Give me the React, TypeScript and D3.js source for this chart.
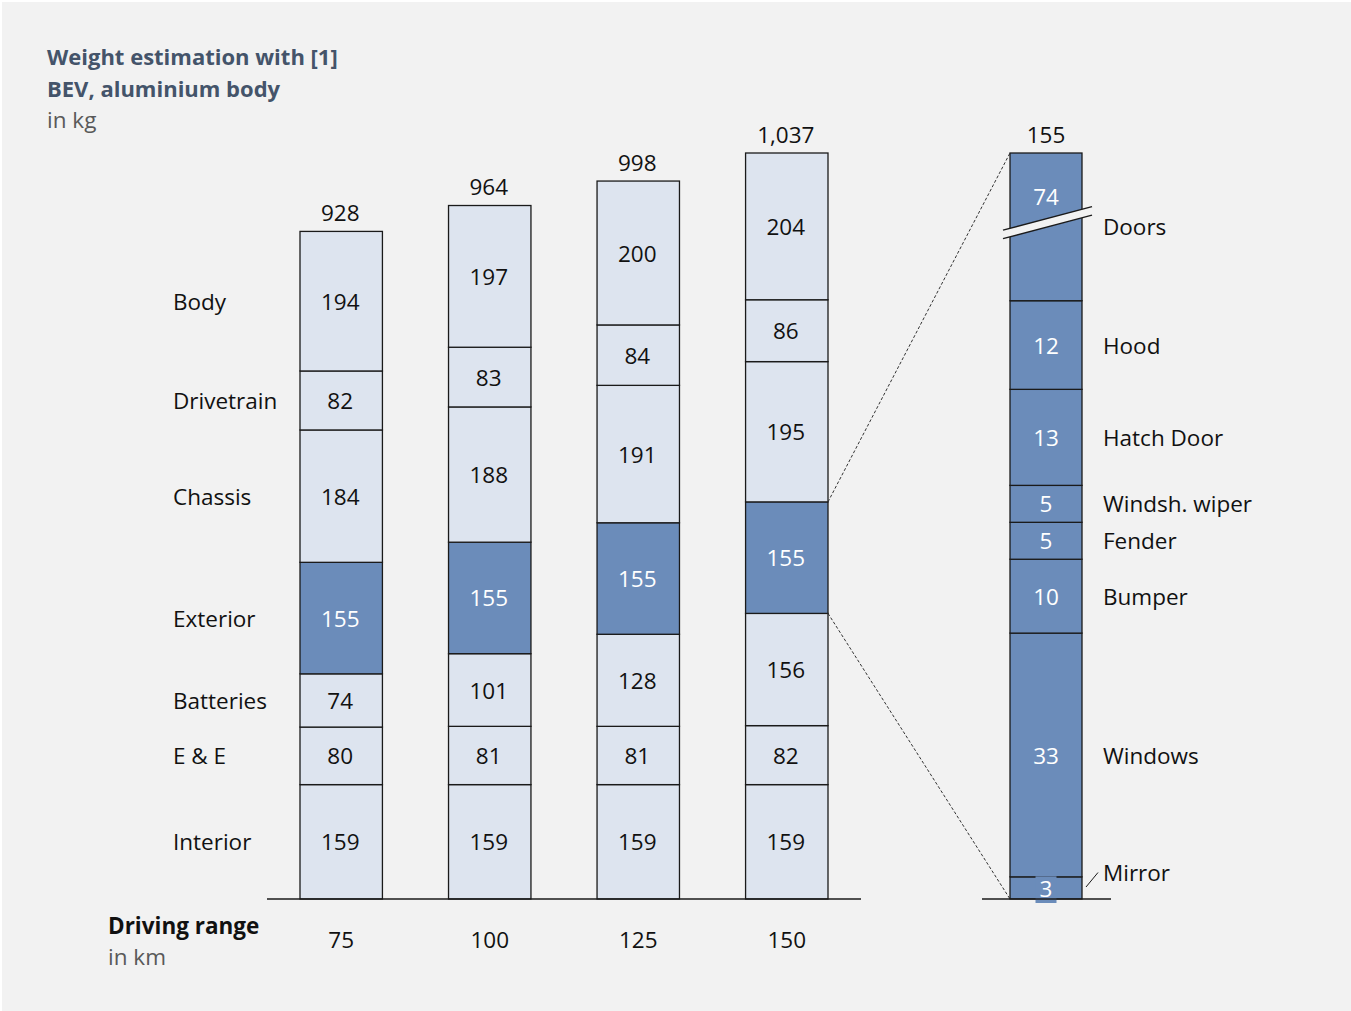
import React from "react";
import * as d3 from "d3";

const ranges = ["75", "100", "125", "150"];
const categories = ["Interior", "E & E", "Batteries", "Exterior", "Chassis", "Drivetrain", "Body"];
const interior = [159, 159, 159, 159];
const ee = [80, 81, 81, 82];
const batteries = [74, 101, 128, 156];
const exterior = [155, 155, 155, 155];
const chassis = [184, 188, 191, 195];
const drivetrain = [82, 83, 84, 86];
const body = [194, 197, 200, 204];
const totalLabels = ["928", "964", "998", "1,037"];

const extParts = ["Mirror", "Windows", "Bumper", "Fender", "Windsh. wiper", "Hatch Door", "Hood", "Doors"];
const extValues = [3, 33, 10, 5, 5, 13, 12, 74];
const doorsShownAs = 20; // broken-axis display height for Doors

const W = 1351;
const H = 1011;
const FONT = "'Open Sans', 'Noto Sans', sans-serif";
const FS = 22.5;
const LIGHT = "#dde4ef";
const BLUE = "#6b8cba";
const STROKE = "#1a1a1a";
const BG = "#f2f2f2";
const TXT = "#111";
const DY = "0.38em";

export default function App() {
  const series = [interior, ee, batteries, exterior, chassis, drivetrain, body];
  const stackData = ranges.map((r, i) => {
    const o: any = { range: r };
    categories.forEach((c, k) => (o[c] = series[k][i]));
    return o;
  });
  const stacked = d3.stack<any>().keys(categories)(stackData);

  const x = d3.scaleBand<string>().domain(ranges).range([300, 828]).paddingInner(0.445).paddingOuter(0);
  const y = d3.scaleLinear().domain([0, 1037]).range([899, 153]);

  const shown = extValues.map((v, i) => (extParts[i] === "Doors" ? doorsShownAs : v));
  const shownTotal = d3.sum(shown);
  const yb = d3.scaleLinear().domain([0, shownTotal]).range([899, 153]);
  const bx0 = 1010;
  const bw = 72;
  const bcx = bx0 + bw / 2;
  let acc = 0;
  const bsegs = shown.map((v, i) => {
    const s = { name: extParts[i], value: extValues[i], y0: acc, y1: acc + v };
    acc += v;
    return s;
  });

  const lastX = (x("150") as number) + x.bandwidth();
  const extLayer = stacked[categories.indexOf("Exterior")][3];
  const bw1 = x.bandwidth();

  const brkY = yb(bsegs[7].y0 + 10.5);

  return (
    <svg width={W} height={H} style={{ position: "absolute", left: 0, top: 0 }} fontFamily={FONT}>
      <rect x={2} y={2} width={W - 2} height={H - 2} fill={BG} />
      {/* Title */}
      <text x={47} y={65} fontSize={22} fontWeight={700} fill="#44546a">Weight estimation with [1]</text>
      <text x={47} y={97} fontSize={22} fontWeight={700} fill="#44546a">BEV, aluminium body</text>
      <text x={47} y={128} fontSize={FS} fill="#595959">in kg</text>

      {/* Stacked bars */}
      {stacked.map((layer) => (
        <g key={layer.key}>
          {layer.map((d, i) => {
            const isExt = layer.key === "Exterior";
            const xx = x(ranges[i]) as number;
            const yTop = y(d[1]);
            const yBot = y(d[0]);
            return (
              <g key={i}>
                <rect x={xx} y={yTop} width={bw1} height={yBot - yTop} fill={isExt ? BLUE : LIGHT} stroke={STROKE} strokeWidth={1.3} />
                <text x={xx + bw1 / 2 - 1} y={(yTop + yBot) / 2} dy={DY} textAnchor="middle" fontSize={FS} fill={isExt ? "#fff" : TXT}>
                  {d[1] - d[0]}
                </text>
              </g>
            );
          })}
        </g>
      ))}
      {/* Category labels at first bar */}
      {stacked.map((layer) => (
        <text key={layer.key} x={173} y={(y(layer[0][0]) + y(layer[0][1])) / 2} dy={DY} fontSize={FS} fill={TXT}>
          {layer.key}
        </text>
      ))}
      {/* Totals */}
      {ranges.map((r, i) => (
        <text key={r} x={(x(r) as number) + bw1 / 2 - 1} y={y(stacked[stacked.length - 1][i][1]) - 19} dy={DY} textAnchor="middle" fontSize={FS} fill={TXT}>
          {totalLabels[i]}
        </text>
      ))}
      {/* baseline */}
      <line x1={267} x2={861} y1={y(0)} y2={y(0)} stroke={STROKE} strokeWidth={1.3} />
      {/* x labels */}
      {ranges.map((r) => (
        <text key={r} x={(x(r) as number) + bw1 / 2} y={939} dy={DY} textAnchor="middle" fontSize={FS} fill={TXT}>
          {r}
        </text>
      ))}
      <text x={108} y={925} dy={DY} fontSize={FS} fontWeight={700} fill={TXT}>Driving range</text>
      <text x={108} y={956} dy={DY} fontSize={FS} fill="#595959">in km</text>

      {/* connectors */}
      <line x1={lastX} y1={y(extLayer[1])} x2={bx0} y2={yb(shownTotal)} stroke="#333" strokeWidth={1} strokeDasharray="3,2" />
      <line x1={lastX} y1={y(extLayer[0])} x2={bx0} y2={yb(0)} stroke="#333" strokeWidth={1} strokeDasharray="3,2" />

      {/* breakdown bar */}
      {bsegs.map((s) => {
        const yTop = yb(s.y1);
        const yBot = yb(s.y0);
        const isDoors = s.name === "Doors";
        const isMirror = s.name === "Mirror";
        return (
          <g key={s.name}>
            <rect x={bx0} y={yTop} width={bw} height={yBot - yTop} fill={BLUE} stroke={STROKE} strokeWidth={1.3} />
            {!isMirror && (
              <text x={bcx} y={isDoors ? yTop + 43 : (yTop + yBot) / 2} dy={DY} textAnchor="middle" fontSize={FS} fill="#fff">
                {s.value}
              </text>
            )}
            <text x={1103} y={isMirror ? yTop - 4 : (yTop + yBot) / 2} dy={DY} fontSize={FS} fill={TXT}>
              {s.name}
            </text>
          </g>
        );
      })}
      {/* break symbol on doors */}
      <polygon
        points={`1003,${brkY + 7} 1092,${brkY - 16.5} 1092,${brkY - 8} 1003,${brkY + 15.5}`}
        fill={BG}
      />
      <line x1={1003} y1={brkY + 7} x2={1092} y2={brkY - 16.5} stroke={STROKE} strokeWidth={1.3} />
      <line x1={1003} y1={brkY + 15.5} x2={1092} y2={brkY - 8} stroke={STROKE} strokeWidth={1.3} />
      {/* Mirror label box */}
      <rect x={bcx - 10.5} y={yb(bsegs[0].y1) - 0.5} width={21} height={yb(0) - yb(bsegs[0].y1) + 4.5} fill={BLUE} />
      <text x={bcx} y={(yb(0) + yb(bsegs[0].y1)) / 2 + 1} dy={DY} textAnchor="middle" fontSize={FS} fill="#fff">
        {bsegs[0].value}
      </text>
      <line x1={1086} y1={887} x2={1098} y2={872.5} stroke={STROKE} strokeWidth={1} />
      {/* breakdown baseline */}
      <line x1={982} x2={1111} y1={yb(0)} y2={yb(0)} stroke={STROKE} strokeWidth={1.3} />
      {/* breakdown total */}
      <text x={bcx} y={yb(shownTotal) - 19} dy={DY} textAnchor="middle" fontSize={FS} fill={TXT}>
        {d3.sum(extValues)}
      </text>
    </svg>
  );
}
